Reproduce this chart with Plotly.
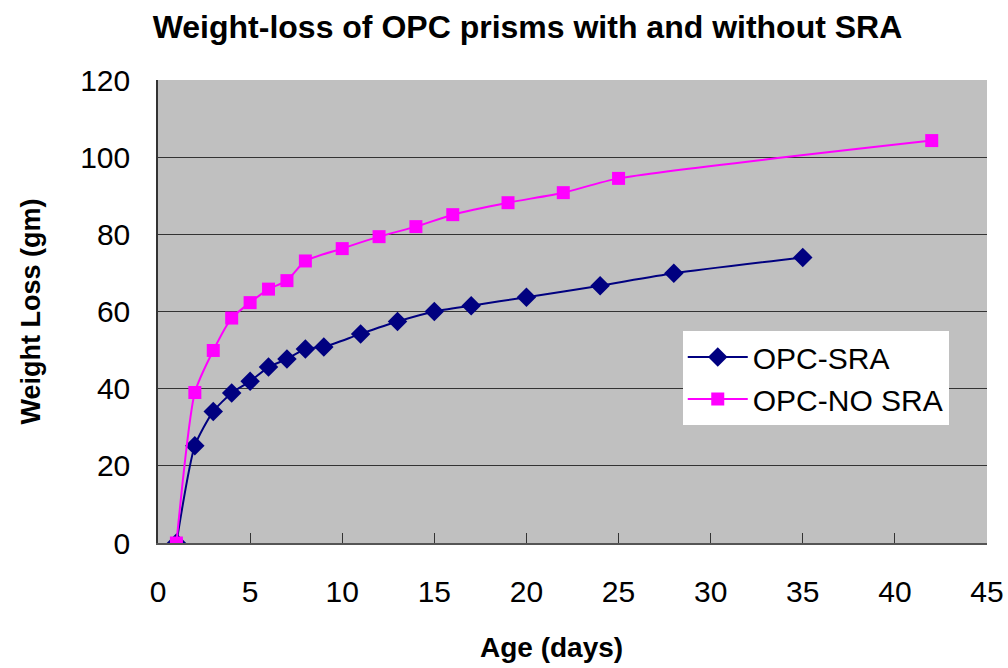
import plotly.graph_objects as go

# Data
sra_days = [1, 2, 3, 4, 5, 6, 7, 8, 9, 11, 13, 15, 17, 20, 24, 28, 35]
sra_loss = [0, 25.2, 34.1, 38.9, 41.9, 45.6, 47.7, 50.3, 50.8, 54.2, 57.4, 60.0, 61.5, 63.7, 66.7, 69.9, 74.0]

nosra_days = [1, 2, 3, 4, 5, 6, 7, 8, 10, 12, 14, 16, 19, 22, 25, 42]
nosra_loss = [0, 39.0, 49.9, 58.3, 62.3, 65.8, 68.0, 73.1, 76.3, 79.4, 82.0, 85.1, 88.2, 90.8, 94.5, 104.3]

x_ticks = [0, 5, 10, 15, 20, 25, 30, 35, 40, 45]
y_ticks = [0, 20, 40, 60, 80, 100, 120]

FONT = "Liberation Sans, Arial, sans-serif"

fig = go.Figure()
fig.add_trace(go.Scatter(
    x=sra_days, y=sra_loss, name="OPC-SRA", mode="lines+markers",
    line=dict(color="#000080", width=2, shape="spline", smoothing=0.6),
    marker=dict(symbol="diamond", size=15, color="#000080"),
))
fig.add_trace(go.Scatter(
    x=nosra_days, y=nosra_loss, name="OPC-NO SRA", mode="lines+markers",
    line=dict(color="#FF00FF", width=2, shape="spline", smoothing=0.6),
    marker=dict(symbol="square", size=13, color="#FF00FF"),
))

W, H = 1008, 668
T, B = 80, 125
PLOT_H = H - T - B

fig.update_layout(
    width=W, height=H,
    margin=dict(l=158, r=21, t=T, b=B, autoexpand=False),
    paper_bgcolor="white", plot_bgcolor="#C0C0C0",
    font=dict(family=FONT, color="black", size=30),
    title=dict(text="<b>Weight-loss of OPC prisms with and without SRA</b>",
               x=527.5 / W, xanchor="center", y=1 - 27 / H, yanchor="middle",
               font=dict(size=32, family=FONT)),
    legend=dict(x=0.633, y=0.458, xanchor="left", yanchor="top",
                bgcolor="white", borderwidth=0,
                font=dict(size=30, family=FONT),
                tracegroupgap=2, itemwidth=60),
    showlegend=True,
    annotations=[dict(text="<b>Age (days)</b>", xref="paper", yref="paper",
                      x=0.475, y=-104 / PLOT_H, xanchor="center", yanchor="middle",
                      showarrow=False, font=dict(size=28, family=FONT))],
)
fig.update_xaxes(
    range=[0, 45], tickvals=x_ticks, ticks="inside", ticklen=10, tickcolor="#333",
    showgrid=False, showline=True, linecolor="#555", linewidth=1.5, zeroline=False,
    ticklabelstandoff=21, tickfont=dict(size=30), ticklabeloverflow="allow",
    automargin=False,
)
fig.update_yaxes(
    range=[0, 120], tickvals=y_ticks, ticks="", showgrid=True, gridcolor="#333",
    gridwidth=1.2, showline=True, linecolor="#333", linewidth=1.5, zeroline=False,
    ticklabelstandoff=20, tickfont=dict(size=30), automargin=False,
    title=dict(text="<b>Weight Loss (gm)</b>", font=dict(size=27), standoff=32),
)

fig.write_html(
    "out.html",
    config={"displayModeBar": False},
    post_script="document.body.style.margin='0';document.body.style.overflow='hidden';",
)
